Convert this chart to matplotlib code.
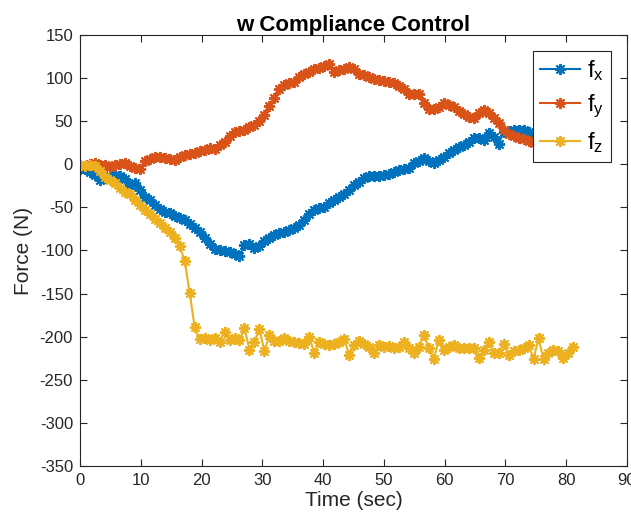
import numpy as np
import matplotlib
matplotlib.use("Agg")
import matplotlib.pyplot as plt

plt.rcParams['font.family'] = ['Liberation Sans', 'DejaVu Sans']
plt.rcParams['mathtext.fontset'] = 'custom'
plt.rcParams['mathtext.rm'] = 'Liberation Sans'
plt.rcParams['mathtext.it'] = 'Liberation Sans'
plt.rcParams['axes.unicode_minus'] = False

# Sample times (s)
dt = 0.82
time = np.arange(100) * dt

f_x = [-5, -6, -9, -12, -18, -16, -14, -12, -14, -17,
       -25, -22, -30, -38, -42, -47, -52, -55, -57, -60,
       -62, -65, -69, -74, -79, -85, -93, -98, -100, -101,
       -102, -104, -106, -94, -93, -97, -95, -89, -85, -82,
       -80, -78, -76, -74, -70, -65, -58, -53, -51, -49,
       -45, -41, -38, -34, -30, -24, -20, -16, -14, -14,
       -14, -13, -11, -9, -7, -5, -4, 1, 4, 7,
       4, 1, 5, 9, 13, 17, 20, 22, 26, 31,
       30, 28, 36, 32, 24, 37, 39, 40, 40, 40,
       38, 36, 37, 38, 36, 37, 35, 36, 35, 34]

f_y = [-1, -2, 0, 1, -1, -1, -3, -1, 0, 1,
       -2, -4, -6, 4, 6, 9, 8, 7, 6, 5,
       8, 11, 12, 13, 15, 17, 19, 18, 22, 26,
       33, 38, 39, 40, 43, 45, 50, 57, 68, 77,
       87, 92, 94, 96, 101, 105, 107, 110, 112, 114,
       116, 107, 109, 111, 113, 110, 105, 103, 101, 99,
       98, 97, 96, 94, 91, 87, 82, 81, 82, 71,
       64, 64, 67, 71, 69, 67, 62, 58, 55, 54,
       59, 63, 59, 54, 48, 40, 35, 33, 31, 29,
       27, 25, 24, 23, 22, 22, 21, 20, 20, 19]

f_z = [-1, -2, -1, -2, -8, -15, -18, -22, -27, -32,
       -35, -41, -47, -53, -58, -64, -68, -74, -79, -85,
       -95, -112, -149, -189, -203, -202, -204, -202, -206, -195,
       -204, -201, -204, -190, -215, -206, -191, -217, -198, -205,
       -205, -202, -205, -206, -207, -208, -200, -219, -206, -208,
       -210, -208, -206, -203, -221, -210, -205, -208, -212, -219,
       -210, -212, -211, -213, -212, -206, -213, -219, -212, -198,
       -213, -226, -204, -215, -212, -210, -213, -213, -213, -213,
       -225, -215, -206, -219, -219, -208, -221, -217, -215, -213,
       -210, -226, -202, -226, -219, -215, -217, -225, -219, -212]

series = [("$\\mathregular{f_x}$", f_x, "#0072BD"),
          ("$\\mathregular{f_y}$", f_y, "#D95319"),
          ("$\\mathregular{f_z}$", f_z, "#EDB120")]

x_ticks = [0, 10, 20, 30, 40, 50, 60, 70, 80, 90]
y_ticks = [-350, -300, -250, -200, -150, -100, -50, 0, 50, 100, 150]

fig = plt.figure(figsize=(6.31, 5.21), dpi=100)
ax = fig.add_axes([0.1268, 0.1056, 0.8669, 0.8273])

star = (8, 2, 0)
for label, vals, color in series:
    ax.plot(time, vals, color=color, marker=star, markersize=8,
            markeredgewidth=1.4, linewidth=1.5, label=label)

ax.set_xlim(0, 90)
ax.set_ylim(-350, 150)
ax.set_xticks(x_ticks)
ax.set_yticks(y_ticks)
ax.tick_params(direction='in', length=5, width=0.8, top=True, right=True,
               labelsize=12, colors='#262626', pad=5)
for sp in ax.spines.values():
    sp.set_color('#262626')
    sp.set_linewidth(0.8)

ax.set_title("w Compliance Control", fontsize=16, fontweight='bold', pad=3)
ax.set_xlabel("Time (sec)", fontsize=15, color='#262626', labelpad=2)
ax.set_ylabel("Force (N)", fontsize=15, color='#262626', labelpad=5)

leg = ax.legend(loc='upper right', bbox_to_anchor=(0.971, 0.963),
                fontsize=17, frameon=True, fancybox=False, framealpha=1,
                edgecolor='#262626', handlelength=1.7, borderpad=0.3,
                labelspacing=0.42, handletextpad=0.3, borderaxespad=0)
leg.get_frame().set_linewidth(0.8)

fig.savefig("out.png", dpi=100)
